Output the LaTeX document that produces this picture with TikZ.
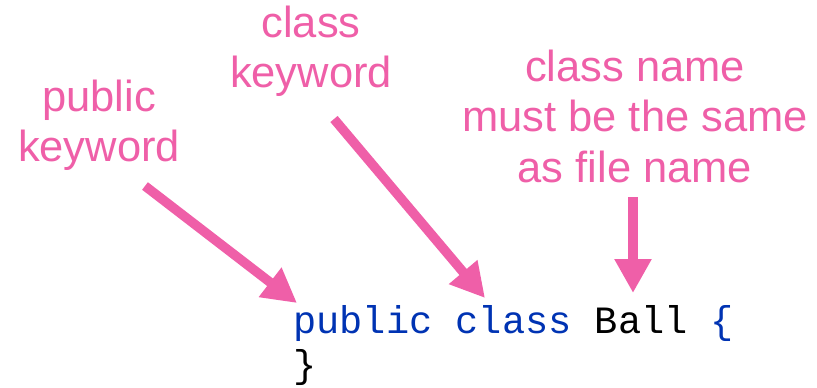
\documentclass[tikz,border=0pt]{standalone}
\usepackage{fontspec}
\setmainfont{Liberation Sans}
\setmonofont{Liberation Mono}
\usepackage{xcolor}
\usetikzlibrary{arrows.meta, positioning}

\definecolor{notepink}{RGB}{239,95,168}
\definecolor{keyblue}{RGB}{0,51,179}

\begin{document}
\begin{tikzpicture}[
  x=0.02cm, y=-0.02cm,
  note/.style={text=notepink, align=center, inner sep=0pt, anchor=base,
    font=\fontsize{24.75pt}{28.5pt}\selectfont},
  code/.style={inner sep=0pt, anchor=base west,
    font=\ttfamily\fontsize{22pt}{23pt}\selectfont},
  pointer/.style={draw=notepink, line width=0.19cm,
    -{Triangle[length=0.68cm, width=0.7cm]}}
]
  \useasboundingbox (0,0) rectangle (817,388);

  % the code
  \node[code] (line1) at (293,333) {\textcolor{keyblue}{public class} Ball \textcolor{keyblue}{\{}};
  \node[code] (line2) at (293,377) {\}};

  % the notes
  \node[note] (pubnote) at (99,162) {public\\keyword};
  \node[note] (classnote) at (311,88) {class\\keyword};
  \node[note] (namenote) at (635,182) {class name\\must be the same\\as file name};

  % arrow ends
  \coordinate (pubtail) at (145,186);
  \coordinate (pubtip) at (297,303);
  \coordinate (classtail) at (334,119);
  \coordinate (classtip) at (485,298);
  \coordinate (nametail) at (633,197);
  \coordinate (nametip) at (633,293);

  \draw[pointer] (pubtail) -- (pubtip);
  \draw[pointer] (classtail) -- (classtip);
  \draw[pointer] (nametail) -- (nametip);
\end{tikzpicture}
\end{document}
